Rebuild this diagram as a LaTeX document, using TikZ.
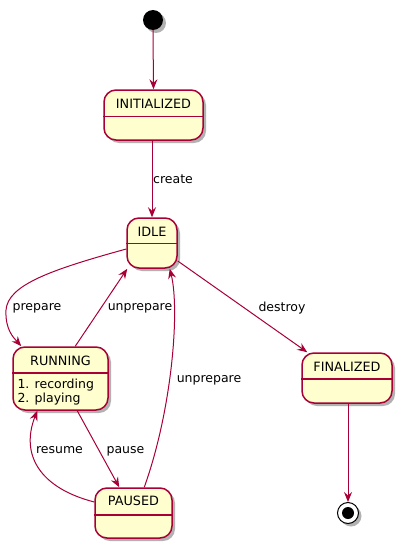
\documentclass[tikz,border=0pt]{standalone}
\usepackage{fontspec}
\setmainfont{DejaVu Sans}
\usetikzlibrary{shadows,arrows.meta}
\definecolor{pborder}{HTML}{A80036}
\definecolor{pfill}{HTML}{FEFECE}
\begin{document}
\begin{tikzpicture}[x=1pt,y=-1pt,
  shad/.style={drop shadow={shadow xshift=3pt,shadow yshift=-3pt,opacity=0.3,fill=black}},
  statebox/.style={draw=pborder,fill=pfill,line width=1.5pt,rounded corners=12pt,shad,inner sep=0pt},
  divider/.style={draw=pborder,line width=1.5pt},
  title/.style={font=\fontsize{12.8}{15}\selectfont,inner sep=0pt,anchor=base},
  body/.style={font=\fontsize{12.5}{14}\selectfont,inner sep=0pt,anchor=base west},
  lbl/.style={font=\fontsize{12.5}{15}\selectfont,inner sep=0pt,anchor=base},
  tr/.style={draw=pborder,line width=1pt,-{Stealth[length=10pt,width=8pt,inset=3.5pt]}},
]
\useasboundingbox (0,0) rectangle (403,549);

% states
\node[circle,fill=black,minimum size=20pt,inner sep=0pt,shad] (start) at (153,20) {};

\node[statebox,minimum width=99pt,minimum height=50pt] (init) at (153.5,115) {};
\draw[divider] (init.west |- 0,116.5) -- (init.east |- 0,116.5);
\node[title] (initT) at (153.5,108) {INITIALIZED};

\node[statebox,minimum width=50pt,minimum height=50pt] (idle) at (152,243) {};
\draw[divider] (idle.west |- 0,243.5) -- (idle.east |- 0,243.5);
\node[title] (idleT) at (152,236) {IDLE};

\node[statebox,minimum width=95pt,minimum height=63pt] (running) at (60.5,378.5) {};
\draw[divider] (running.west |- 0,373) -- (running.east |- 0,373);
\node[title] (runningT) at (60.5,365) {RUNNING};
\node[body] (run1) at (17.3,388) {1. recording};
\node[body] (run2) at (17.3,402) {2. playing};

\node[statebox,minimum width=77pt,minimum height=50pt] (paused) at (133.5,513) {};
\draw[divider] (paused.west |- 0,515) -- (paused.east |- 0,515);
\node[title] (pausedT) at (133.5,505) {PAUSED};

\node[statebox,minimum width=90pt,minimum height=50pt] (final) at (347,378) {};
\draw[divider] (final.west |- 0,379) -- (final.east |- 0,379);
\node[title] (finalT) at (347,371) {FINALIZED};

\node[circle,draw=black,fill=white,line width=1pt,minimum size=21pt,inner sep=0pt,shad] (end) at (348,513) {};
\node[circle,fill=black,minimum size=12pt,inner sep=0pt] (endin) at (end.center) {};

% transitions
\draw[tr] (start.south) -- (init.north);
\draw[tr] (idle.north |- init.south) -- (idle.north);
\node[lbl] (lcreate) at (173,183) {create};

\draw[tr] ([yshift=-6pt]idle.west) .. controls (50,270) and (8,285) .. (6,310)
  .. controls (5,330) and (14,338) .. ([xshift=9pt]running.north west);
\node[lbl] (lprepare) at (37,310) {prepare};

\draw[tr] ([xshift=63pt]running.north west) -- ([xshift=1pt]idle.south west);
\node[lbl] (lunprep1) at (140,310) {unprepare};

\draw[tr] ([xshift=50pt]paused.north west) .. controls (172,410) and (180,310) .. ([xshift=-8pt]idle.south east);
\node[lbl] (lunprep2) at (209,382) {unprepare};

\draw[tr] ([yshift=-18pt]idle.east) -- ([xshift=6pt]final.north west);
\node[lbl] (ldestroy) at (282,311) {destroy};

\draw[tr] ([xshift=65pt]running.south west) -- ([xshift=25pt]paused.north west);
\node[lbl] (lpause) at (125.5,453) {pause};

\draw[tr] ([yshift=11pt]paused.west) .. controls (40,488) and (20,455) .. ([xshift=25pt]running.south west);
\node[lbl] (lresume) at (59.5,453) {resume};

\draw[tr] (end.north |- final.south) -- (end.north);
\end{tikzpicture}
\end{document}
